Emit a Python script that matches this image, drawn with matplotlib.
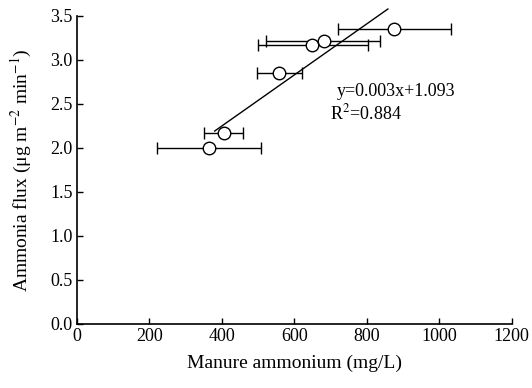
import matplotlib
matplotlib.use("Agg")
import matplotlib.pyplot as plt
import numpy as np

plt.rcParams['font.family'] = ['Liberation Serif', 'DejaVu Serif']
plt.rcParams['mathtext.fontset'] = 'stix'

manure_nh4 = [364, 405, 558, 650, 681, 874]
flux = [2.00, 2.17, 2.85, 3.17, 3.21, 3.35]
x_err_low = [144, 55, 62, 150, 158, 154]
x_err_high = [143, 54, 62, 152, 155, 157]
fit_slope = 0.0029
fit_intercept = 1.09
fit_x = [380, 858]
x_ticks = [0, 200, 400, 600, 800, 1000, 1200]
y_ticks = [0.0, 0.5, 1.0, 1.5, 2.0, 2.5, 3.0, 3.5]

fig = plt.figure(figsize=(5.32, 3.88), dpi=100)
ax = fig.add_axes([0.1447, 0.165, 0.8173, 0.794])

ax.errorbar(manure_nh4, flux, xerr=[x_err_low, x_err_high], fmt='o', color='black',
            mfc='white', mec='black', ms=9, mew=1.0, elinewidth=1.0, capsize=4.5,
            capthick=1.0, zorder=3)
fx = np.array(fit_x)
ax.plot(fx, fit_slope * fx + fit_intercept, color='black', lw=1.0, clip_on=False, zorder=2)

ax.text(717, 2.64, 'y=0.003x+1.093', fontsize=13, va='center', ha='left')
ax.text(698, 2.39, 'R$^2$=0.884', fontsize=13, va='center', ha='left')

ax.set_xlim(0, 1200)
ax.set_ylim(0, 3.5)
ax.set_xticks(x_ticks)
ax.set_yticks(y_ticks)
ax.set_yticklabels([f'{v:.1f}' for v in y_ticks])
ax.tick_params(direction='in', length=4, labelsize=13, width=1)
ax.tick_params(axis='x', pad=3)
ax.tick_params(axis='y', pad=3)
ax.spines['top'].set_visible(False)
ax.spines['right'].set_visible(False)
for s in ('left', 'bottom'):
    ax.spines[s].set_linewidth(1.2)

ax.set_xlabel('Manure ammonium (mg/L)', fontsize=14, labelpad=7)
ax.set_ylabel('Ammonia flux (μg m$^{-2}$ min$^{-1}$)', fontsize=14, labelpad=12)

fig.savefig('out.png', dpi=100)
